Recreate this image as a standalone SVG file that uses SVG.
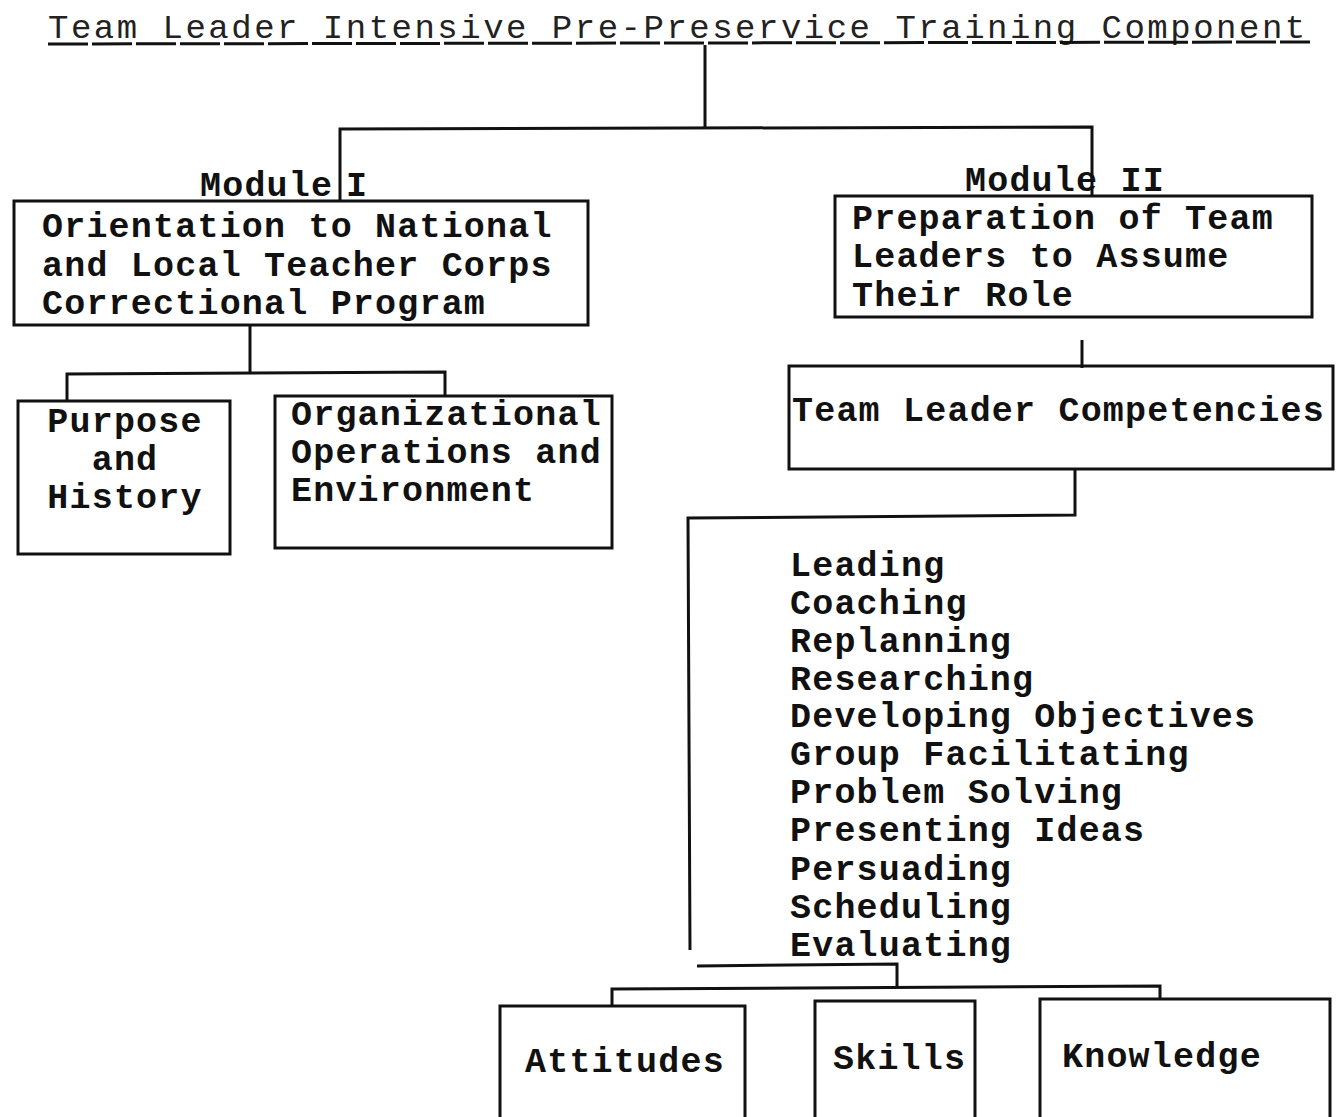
<svg xmlns="http://www.w3.org/2000/svg" width="1336" height="1117" viewBox="0 0 1336 1117">
  <style>
    .bg { fill: #ffffff; }
    .box { fill: none; stroke: #111; stroke-width: 3; }
    .wire { fill: none; stroke: #111; stroke-width: 3; }
    .t { font-family: "Liberation Mono", "DejaVu Sans Mono", monospace; font-size: 35px; letter-spacing: 1.2px; font-weight: bold; fill: #111; }
    .title { font-family: "Liberation Mono", "DejaVu Sans Mono", monospace; font-size: 34px; letter-spacing: 2.5px; fill: #222; }
  </style>
  <rect class="bg" x="0" y="0" width="1336" height="1117"/>

  <!-- heading -->
  <g id="title">
    <text class="title" x="48" y="38">Team Leader Intensive Pre-Preservice Training Component</text>
    <line class="wire" x1="48" y1="44" x2="1310" y2="42" stroke-dasharray="40 4" stroke-width="2.5"/>
  </g>

  <!-- tree connectors -->
  <g id="connectors">
    <polyline class="wire" points="705,45 705,128"/>
    <polyline class="wire" points="340,200 340,129 1092,127 1092,196"/>
    <polyline class="wire" points="250,326 250,373"/>
    <polyline class="wire" points="67,400 67,374 445,372 445,396"/>
    <polyline class="wire" points="1082,340 1082,368"/>
    <polyline class="wire" points="1075,470 1075,515 688,518 690,950"/>
    <polyline class="wire" points="697,966 897,964 897,988"/>
    <polyline class="wire" points="612,1005 612,989 1160,986 1160,1000"/>
  </g>

  <g id="module1">
    <text class="t" x="200" y="196">Module</text>
    <text class="t" x="346" y="196">I</text>
    <rect class="box" x="14" y="201" width="574" height="124"/>
    <text class="t" x="42" y="237">Orientation to National</text>
    <text class="t" x="42" y="276">and Local Teacher Corps</text>
    <text class="t" x="42" y="314">Correctional Program</text>
  </g>

  <g id="purpose">
    <rect class="box" x="18" y="401" width="212" height="153"/>
    <text class="t" x="125" y="432" text-anchor="middle">Purpose</text>
    <text class="t" x="125" y="470" text-anchor="middle">and</text>
    <text class="t" x="125" y="508" text-anchor="middle">History</text>
  </g>

  <g id="organizational">
    <rect class="box" x="275" y="396" width="337" height="152"/>
    <text class="t" x="291" y="425">Organizational</text>
    <text class="t" x="291" y="463">Operations and</text>
    <text class="t" x="291" y="501">Environment</text>
  </g>

  <g id="module2">
    <text class="t" x="965" y="191">Module II</text>
    <rect class="box" x="835" y="196" width="477" height="121"/>
    <text class="t" x="852" y="229">Preparation of Team</text>
    <text class="t" x="852" y="267">Leaders to Assume</text>
    <text class="t" x="852" y="306">Their Role</text>
  </g>

  <g id="competencies">
    <rect class="box" x="789" y="366" width="544" height="103"/>
    <text class="t" x="792" y="421">Team Leader Competencies</text>
  </g>

  <g id="competency-list">
    <text class="t" x="790" y="576">Leading</text>
    <text class="t" x="790" y="614">Coaching</text>
    <text class="t" x="790" y="652">Replanning</text>
    <text class="t" x="790" y="690">Researching</text>
    <text class="t" x="790" y="727">Developing Objectives</text>
    <text class="t" x="790" y="765">Group Facilitating</text>
    <text class="t" x="790" y="803">Problem Solving</text>
    <text class="t" x="790" y="841">Presenting Ideas</text>
    <text class="t" x="790" y="880">Persuading</text>
    <text class="t" x="790" y="918">Scheduling</text>
    <text class="t" x="790" y="956">Evaluating</text>
  </g>

  <g id="attitudes">
    <rect class="box" x="500" y="1006" width="245" height="130"/>
    <text class="t" x="525" y="1072">Attitudes</text>
  </g>

  <g id="skills">
    <rect class="box" x="815" y="1001" width="160" height="135"/>
    <text class="t" x="833" y="1069">Skills</text>
  </g>

  <g id="knowledge">
    <rect class="box" x="1040" y="999" width="290" height="137"/>
    <text class="t" x="1062" y="1067">Knowledge</text>
  </g>
</svg>
